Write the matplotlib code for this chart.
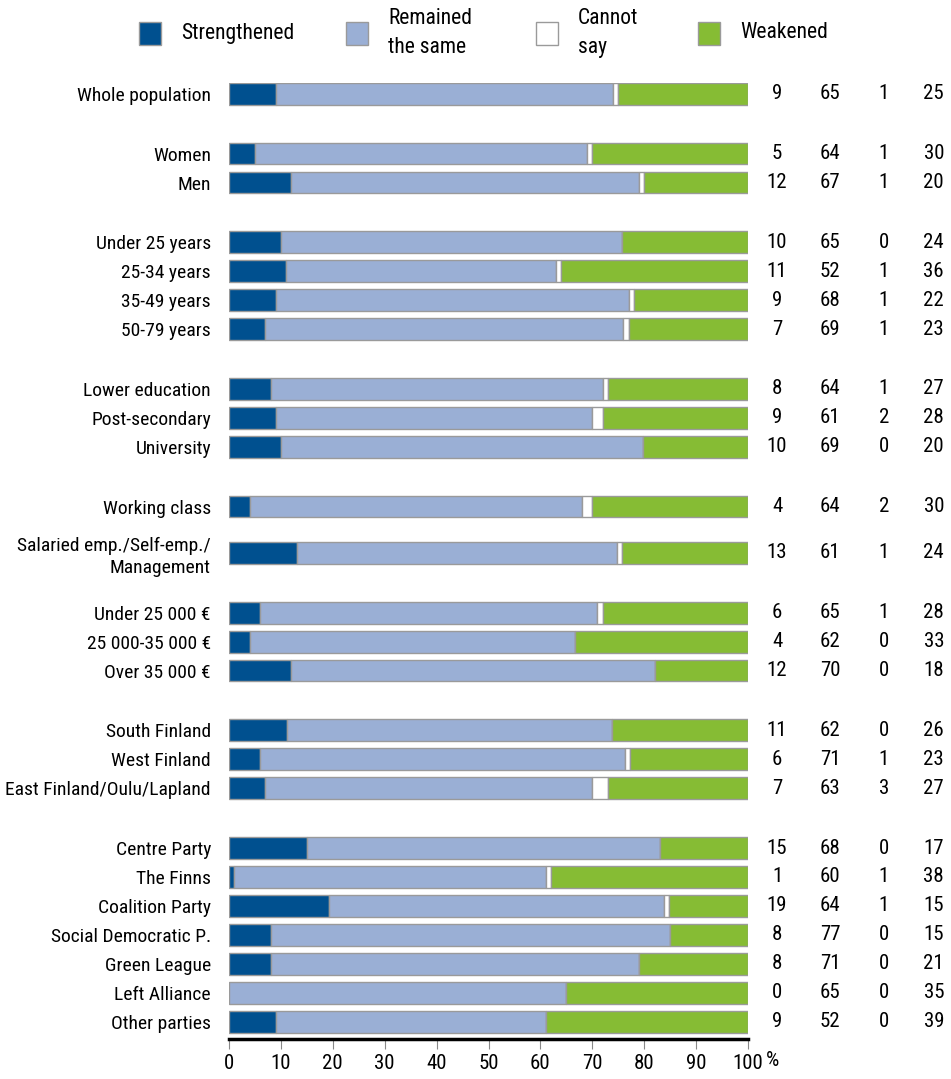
import matplotlib.pyplot as plt
from matplotlib.patches import Rectangle
import numpy as np

plt.rcParams['font.family'] = ['Roboto Condensed', 'Liberation Sans Narrow', 'Roboto', 'DejaVu Sans']
fs = 14
fs_num = 15
fs_leg = 15.5

# Data
labels = ["Whole population",
          "Women", "Men",
          "Under 25 years", "25-34 years", "35-49 years", "50-79 years",
          "Lower education", "Post-secondary", "University",
          "Working class", "Salaried emp./Self-emp./\nManagement",
          "Under 25 000 €", "25 000-35 000 €", "Over 35 000 €",
          "South Finland", "West Finland", "East Finland/Oulu/Lapland",
          "Centre Party", "The Finns", "Coalition Party", "Social Democratic P.",
          "Green League", "Left Alliance", "Other parties"]
group_sizes = [1, 2, 4, 3, 2, 3, 3, 7]
strengthened = [9, 5, 12, 10, 11, 9, 7, 8, 9, 10, 4, 13, 6, 4, 12, 11, 6, 7, 15, 1, 19, 8, 8, 0, 9]
same = [65, 64, 67, 65, 52, 68, 69, 64, 61, 69, 64, 61, 65, 62, 70, 62, 71, 63, 68, 60, 64, 77, 71, 65, 52]
cannot = [1, 1, 1, 0, 1, 1, 1, 1, 2, 0, 2, 1, 1, 0, 0, 0, 1, 3, 0, 1, 1, 0, 0, 0, 0]
weakened = [25, 30, 20, 24, 36, 22, 23, 27, 28, 20, 30, 24, 28, 33, 18, 26, 23, 27, 17, 38, 15, 15, 21, 35, 39]

series = [strengthened, same, cannot, weakened]
names = ["Strengthened", "Remained\nthe same", "Cannot\nsay", "Weakened"]
colors = ['#00508f', '#9aafd5', '#ffffff', '#86bc34']
edge = '#9a9a9a'

# Row positions: 1 unit inside a group, wider gap between groups
ypos = []
y = 0.0
row = 0
for g, n in enumerate(group_sizes):
    for k in range(n):
        if row > 0:
            if k == 0:
                y += 2.06
            elif labels[row].startswith("Salaried"):
                y += 1.6
            else:
                y += 1.0
        ypos.append(y)
        row += 1
ypos = np.array(ypos)

vals = np.array(series, dtype=float)
vals = vals / vals.sum(axis=0) * 100  # bars are drawn to a full 100 %

fig = plt.figure(figsize=(9.51, 10.79), dpi=100)
ax = fig.add_axes([229 / 951, 1 - 1039 / 1079, 519 / 951, (1039 - 83) / 1079])

left = np.zeros(len(labels))
for i in range(4):
    ax.barh(ypos, vals[i], left=left, height=0.75, color=colors[i],
            edgecolor=edge, linewidth=1.0)
    left += vals[i]

ax.set_ylim(ypos[-1] + 0.59, -0.375)
ax.set_xlim(0, 100)
ax.set_yticks(ypos)
ax.set_yticklabels(labels, fontsize=fs, ha='right', linespacing=1.25)
ax.tick_params(axis='y', length=0, pad=13)
ax.set_xticks(range(0, 101, 10))
ax.tick_params(axis='x', length=7, width=0.8, color='#888888', labelsize=fs_num, pad=4)

for s in ['top', 'right', 'left']:
    ax.spines[s].set_visible(False)
ax.spines['bottom'].set_linewidth(2.5)
ax.spines['bottom'].set_color('black')

ax.text(103.4, ypos[-1] + 0.59 + 0.43, "%", fontsize=fs_num, va='top', ha='left')

# Numeric columns on the right
col_x = [105.6, 115.8, 126.2, 135.8]
for i in range(4):
    for r in range(len(labels)):
        ax.text(col_x[i], ypos[r], str(series[i][r]), fontsize=fs_num,
                ha='center', va='center', clip_on=False)

# Legend
leg_x = [139, 346, 536, 698]
for i in range(4):
    fig.patches.append(Rectangle((leg_x[i] / 951, 1 - 45 / 1079), 22 / 951, 23 / 1079,
                                 transform=fig.transFigure, facecolor=colors[i],
                                 edgecolor=edge, linewidth=1.0))
    fig.text((leg_x[i] + 42) / 951, 1 - 33 / 1079, names[i], fontsize=fs_leg,
             ha='left', va='center', linespacing=1.55)

fig.savefig("out.png", dpi=100)
